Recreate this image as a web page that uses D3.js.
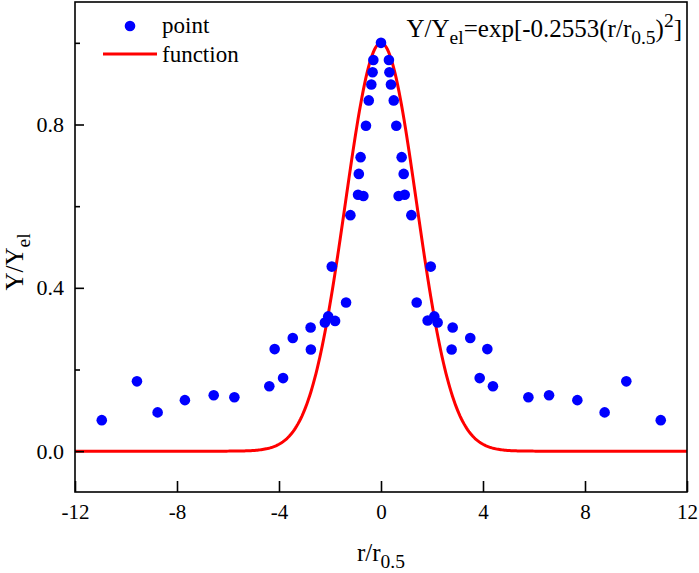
<!DOCTYPE html>
<html lang="en">
<head>
    <meta charset="UTF-8">
    <title>Gaussian fit</title>
    <script src="https://d3js.org/d3.v7.min.js"></script>
    <style>
        body { margin: 0; background: #fff; }
        svg text { font-family: "Liberation Serif", "Times New Roman", serif; fill: #000; }
    </style>
</head>
<body>
    <svg id="chart"></svg>
    <script>
        // measured points (r/r0.5, Y/Yel)
        const pointX = [-10.95, -9.57, -8.76, -7.69, -6.56, -5.75, -4.38, -3.84, -4.17, -3.46,
            -2.76, -2.75, -2.20, -2.07, -1.80, -1.37, -1.93, -1.20, -0.90, -0.69,
            -0.87, -0.80, -0.59, -0.48, -0.38, -0.33, -0.30, 0.00,
            0.31, 0.33, 0.39, 0.50, 0.60, 0.81, 0.89, 0.69, 0.93, 1.19,
            1.95, 1.40, 1.83, 2.09, 2.22, 2.81, 2.77, 3.50, 4.17, 3.87,
            4.39, 5.78, 6.59, 7.70, 8.77, 9.62, 10.97];
        const pointY = [0.076, 0.171, 0.095, 0.125, 0.137, 0.132, 0.159, 0.179, 0.250, 0.277,
            0.303, 0.249, 0.315, 0.330, 0.319, 0.364, 0.452, 0.578, 0.628, 0.625,
            0.679, 0.720, 0.797, 0.859, 0.898, 0.928, 0.958, 1.000,
            0.958, 0.928, 0.898, 0.859, 0.797, 0.720, 0.679, 0.625, 0.628, 0.578,
            0.452, 0.364, 0.320, 0.330, 0.315, 0.303, 0.249, 0.277, 0.250, 0.179,
            0.159, 0.132, 0.137, 0.125, 0.095, 0.171, 0.076];

        // fitted function Y/Yel = exp[k (r/r0.5)^2]
        const fitK = -0.2553;

        const xTicks = [-12, -8, -4, 0, 4, 8, 12];
        const yTicks = [0.0, 0.4, 0.8];
        const yMinorTicks = [0.2, 0.6, 1.0];

        const serif = '"Liberation Serif", "Times New Roman", serif';
        const width = 699, height = 573;
        const margin = { top: 2, right: 12, bottom: 81, left: 75 };

        const svg = d3.select("#chart").attr("width", width).attr("height", height);

        const x = d3.scaleLinear().domain([-12, 12]).range([margin.left, width - margin.right]);
        const y = d3.scaleLinear().domain([-0.1, 1.1]).range([height - margin.bottom, margin.top]);

        // fitted curve
        const curveX = d3.range(-12, 12.001, 0.05);
        const line = d3.line().x(d => x(d)).y(d => y(Math.exp(fitK * d * d)));

        svg.append("path")
            .datum(curveX)
            .attr("d", line)
            .attr("fill", "none")
            .attr("stroke", "#ff0000")
            .attr("stroke-width", 3);

        // points
        svg.append("g")
            .selectAll("circle")
            .data(pointX.map((v, i) => [v, pointY[i]]))
            .enter()
            .append("circle")
            .attr("cx", d => x(d[0]))
            .attr("cy", d => y(d[1]))
            .attr("r", 5.3)
            .attr("fill", "#0000ff");

        // frame
        svg.append("rect")
            .attr("x", margin.left)
            .attr("y", margin.top)
            .attr("width", width - margin.left - margin.right)
            .attr("height", height - margin.top - margin.bottom)
            .attr("fill", "none")
            .attr("stroke", "#000")
            .attr("stroke-width", 1.6);

        // x axis (ticks point inward)
        const xAxis = svg.append("g")
            .attr("transform", `translate(0,${height - margin.bottom})`)
            .call(d3.axisBottom(x).tickValues(xTicks).tickSize(-11).tickPadding(12).tickFormat(d => String(d)));
        xAxis.select(".domain").remove();
        xAxis.selectAll(".tick line").attr("stroke-width", 1.6);
        xAxis.selectAll(".tick text").style("font-size", "21px").style("font-family", serif);

        // y axis
        const yAxis = svg.append("g")
            .attr("transform", `translate(${margin.left},0)`)
            .call(d3.axisLeft(y).tickValues(yTicks).tickSize(-9).tickPadding(11).tickFormat(d => d.toFixed(1)));
        yAxis.select(".domain").remove();
        yAxis.selectAll(".tick line").attr("stroke-width", 1.6);
        yAxis.selectAll(".tick text").style("font-size", "22px").style("font-family", serif);

        const yMinor = svg.append("g")
            .attr("transform", `translate(${margin.left},0)`)
            .call(d3.axisLeft(y).tickValues(yMinorTicks).tickSize(-5).tickFormat(""));
        yMinor.select(".domain").remove();
        yMinor.selectAll(".tick line").attr("stroke-width", 1.6);

        // axis titles
        const xt = svg.append("text")
            .attr("x", x(0))
            .attr("y", 561)
            .attr("text-anchor", "middle")
            .style("font-family", serif)
            .style("font-size", "25px");
        xt.append("tspan").text("r/r");
        xt.append("tspan").attr("dy", 7).style("font-size", "19.5px").text("0.5");

        const yt = svg.append("text")
            .attr("transform", "translate(23,262) rotate(-90)")
            .attr("text-anchor", "middle")
            .style("font-family", serif)
            .style("font-size", "25px");
        yt.append("tspan").text("Y/Y");
        yt.append("tspan").attr("dy", 7).style("font-size", "19.5px").text("el");

        // equation
        const eq = svg.append("text")
            .attr("x", 682)
            .attr("y", 37)
            .attr("text-anchor", "end")
            .style("font-family", serif)
            .style("font-size", "25px");
        eq.append("tspan").text("Y/Y");
        eq.append("tspan").attr("dy", 7).style("font-size", "19.5px").text("el");
        eq.append("tspan").attr("dy", -7).text("=exp[-0.2553(r/r");
        eq.append("tspan").attr("dy", 7).style("font-size", "19.5px").text("0.5");
        eq.append("tspan").attr("dy", -7).text(")");
        eq.append("tspan").attr("dy", -10).style("font-size", "19.5px").text("2");
        eq.append("tspan").attr("dy", 10).text("]");

        // legend
        const legend = svg.append("g").style("font-family", serif);
        legend.append("circle").attr("cx", 130).attr("cy", 26).attr("r", 5.3).attr("fill", "#0000ff");
        legend.append("text").attr("x", 162).attr("y", 33).style("font-size", "23px").text("point");
        legend.append("line")
            .attr("x1", 103).attr("x2", 157).attr("y1", 54).attr("y2", 54)
            .attr("stroke", "#ff0000").attr("stroke-width", 3);
        legend.append("text").attr("x", 162).attr("y", 62).style("font-size", "23px").text("function");
    </script>
</body>
</html>
